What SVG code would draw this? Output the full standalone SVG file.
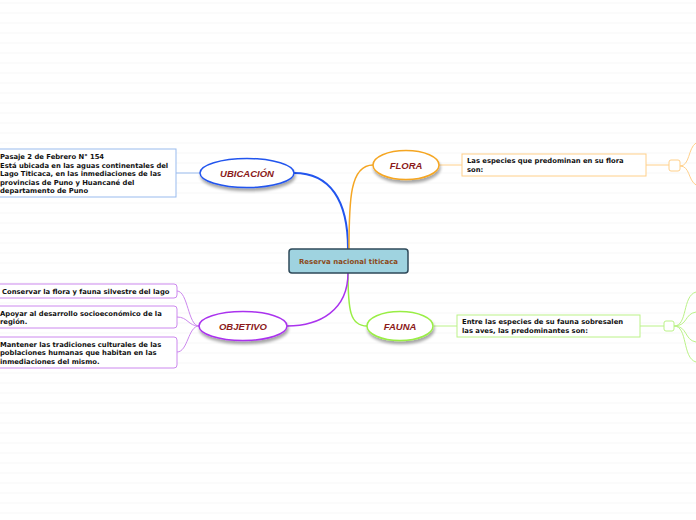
<svg xmlns="http://www.w3.org/2000/svg" width="696" height="520" viewBox="0 0 696 520">
<defs>
<pattern id="lines" x="0" y="0" width="696" height="10" patternUnits="userSpaceOnUse">
<rect x="0" y="2.5" width="696" height="1" fill="#f8f8f8"/>
</pattern>
<filter id="sh" x="-20%" y="-30%" width="140%" height="180%">
<feGaussianBlur in="SourceAlpha" stdDeviation="1.5"/>
<feOffset dx="1" dy="3" result="b"/>
<feComponentTransfer><feFuncA type="linear" slope="0.35"/></feComponentTransfer>
<feMerge><feMergeNode/><feMergeNode in="SourceGraphic"/></feMerge>
</filter>
</defs>
<style>
.lbl{font-family:"Liberation Sans",Arial,sans-serif;font-size:9.5px;font-weight:bold;font-style:italic;fill:#8b1a1a;text-anchor:middle}
.t{font-family:"DejaVu Sans",Verdana,sans-serif;font-size:6.8px;font-weight:bold;fill:#111}
.box{fill:#fff;stroke-width:1}
.ell{fill:#fff;stroke-width:1.5}
.c{fill:none}
</style>
<rect width="696" height="520" fill="#fff"/>
<rect width="696" height="520" fill="url(#lines)"/>

<g id="connectors">
<path class="c" d="M348,249 C348,200 330,173 294,173" stroke="#2255ee" stroke-width="2"/>
<path class="c" d="M349,249 C349,200 350,165 373,165" stroke="#f5a623" stroke-width="1.5"/>
<path class="c" d="M348,273 C348,310 350,326 367,326" stroke="#99ee44" stroke-width="1.5"/>
<path class="c" d="M348,273 C348,310 320,326 287,326" stroke="#aa33ee" stroke-width="1.5"/>
<path class="c" d="M200,173 L176,173" stroke="#99bbee" stroke-width="1"/>
<path class="c" d="M439,165 L462,165" stroke="#ffd08a" stroke-width="1"/>
<path class="c" d="M646,165 L669,165" stroke="#ffd08a" stroke-width="1"/>
<path class="c" d="M680,166 C690,166 688,148 696,143" stroke="#ffd08a" stroke-width="1"/>
<path class="c" d="M680,166 C690,166 688,180 696,185" stroke="#ffd08a" stroke-width="1"/>
<path class="c" d="M434,326 L457,326" stroke="#bbf288" stroke-width="1"/>
<path class="c" d="M640,326 L664,326" stroke="#bbf288" stroke-width="1"/>
<path class="c" d="M674,326 C688,326 682,296 696,292" stroke="#bbf288" stroke-width="1"/>
<path class="c" d="M674,326 C688,326 684,314 696,312" stroke="#bbf288" stroke-width="1"/>
<path class="c" d="M674,326 C688,326 684,340 696,342" stroke="#bbf288" stroke-width="1"/>
<path class="c" d="M674,326 C688,326 682,358 696,362" stroke="#bbf288" stroke-width="1"/>
<path class="c" d="M199,326 C188,326 188,291 177,291" stroke="#cc88ee" stroke-width="1"/>
<path class="c" d="M199,326 C188,326 188,317 177,317" stroke="#cc88ee" stroke-width="1"/>
<path class="c" d="M199,326 C188,326 188,352 177,352" stroke="#cc88ee" stroke-width="1"/>
</g>

<g id="center">
<rect x="289" y="249" width="119" height="24" rx="3" fill="#9fd3e0" stroke="#2f4a5a" stroke-width="1.5"/>
<text x="348.5" y="263.5" font-family="DejaVu Sans,Verdana,sans-serif" font-size="7" font-weight="bold" fill="#8b4a1a" text-anchor="middle">Reserva nacional titicaca</text>
</g>

<g id="ubicacion">
<ellipse class="ell" cx="247" cy="173" rx="47" ry="14.5" stroke="#2255ee" filter="url(#sh)"/>
<text class="lbl" x="247" y="176.5">UBICACIÓN</text>
</g>
<g id="ubicacion-text">
<rect class="box" x="-5" y="149" width="181" height="48" stroke="#99bbee"/>
<text class="t" x="0" y="159">Pasaje 2 de Febrero N° 154</text>
<text class="t" x="0" y="167.5">Está ubicada en las aguas continentales del</text>
<text class="t" x="0" y="176">Lago Titicaca, en las inmediaciones de las</text>
<text class="t" x="0" y="184.5">provincias de Puno y Huancané del</text>
<text class="t" x="0" y="193">departamento de Puno</text>
</g>

<g id="flora">
<ellipse class="ell" cx="406" cy="165" rx="33" ry="14.5" stroke="#f5a623" filter="url(#sh)"/>
<text class="lbl" x="406" y="168.5">FLORA</text>
</g>
<g id="flora-text">
<rect class="box" x="462" y="154" width="184" height="22" stroke="#ffd08a"/>
<text class="t" x="467" y="163">Las especies que predominan en su flora</text>
<text class="t" x="467" y="171.5">son:</text>
</g>
<g id="flora-hub">
<rect x="669" y="160" width="11" height="11" rx="2" fill="#fff" stroke="#ffd08a"/>
</g>

<g id="fauna">
<ellipse class="ell" cx="400" cy="326" rx="33" ry="14.5" stroke="#99ee44" filter="url(#sh)"/>
<text class="lbl" x="400" y="329.5">FAUNA</text>
</g>
<g id="fauna-text">
<rect class="box" x="457" y="315" width="183" height="22" stroke="#bbf288"/>
<text class="t" x="462" y="324">Entre las especies de su fauna sobresalen</text>
<text class="t" x="462" y="332.5">las aves, las predominantes son:</text>
</g>
<g id="fauna-hub">
<rect x="664" y="321" width="10" height="10" rx="2" fill="#fff" stroke="#bbf288"/>
</g>

<g id="objetivo">
<ellipse class="ell" cx="243" cy="326" rx="44" ry="14.5" stroke="#aa33ee" filter="url(#sh)"/>
<text class="lbl" x="243" y="329.5">OBJETIVO</text>
</g>
<g id="obj1">
<rect class="box" x="-5" y="284" width="182" height="14" rx="3" stroke="#cc88ee"/>
<text class="t" x="2" y="293.5">Conservar la flora y fauna silvestre del lago</text>
</g>
<g id="obj2">
<rect class="box" x="-5" y="306" width="182" height="22" rx="3" stroke="#cc88ee"/>
<text class="t" x="0" y="315.5">Apoyar al desarrollo socioeconómico de la</text>
<text class="t" x="0" y="324">región.</text>
</g>
<g id="obj3">
<rect class="box" x="-5" y="337" width="182" height="31" rx="3" stroke="#cc88ee"/>
<text class="t" x="0" y="346.5">Mantener las tradiciones culturales de las</text>
<text class="t" x="0" y="355">poblaciones humanas que habitan en las</text>
<text class="t" x="0" y="363.5">inmediaciones del mismo.</text>
</g>
</svg>
